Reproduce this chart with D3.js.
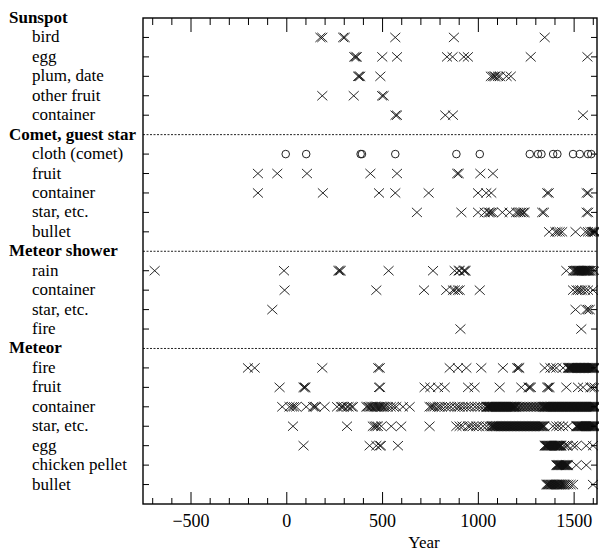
<!DOCTYPE html>
<html>
<head>
<meta charset="utf-8">
<script src="https://cdn.jsdelivr.net/npm/d3@7"></script>
<style>
    body { margin: 0; background: #fff; }
    text { font-family: 'Liberation Serif', 'DejaVu Serif', serif; }
</style>
</head>
<body>
<svg id="chart" width="599" height="554"></svg>
<script>
// Row labels, top to bottom (headers are the group names)
const groups = ['Sunspot', 'Comet, guest star', 'Meteor shower', 'Meteor'];
const sunspotRows = ['bird', 'egg', 'plum, date', 'other fruit', 'container'];
const cometRows = ['cloth (comet)', 'fruit', 'container', 'star, etc.', 'bullet'];
const showerRows = ['rain', 'container', 'star, etc.', 'fire'];
const meteorRows = ['fire', 'fruit', 'container', 'star, etc.', 'egg', 'chicken pellet', 'bullet'];

const majorTicks = [-500, 0, 500, 1000, 1500];
const minorTicks = [-700, -600, -400, -300, -200, -100, 100, 200, 300, 400, 600, 700, 800, 900,
    1100, 1200, 1300, 1400, 1600];

// Years of records, one array per row
const sunspotBird = [178, 188, 297, 305, 569, 875, 1349];
const sunspotEgg = [355, 362, 368, 501, 578, 839, 868, 927, 948, 1276, 1572];
const sunspotPlum = [375, 380, 386, 491, 1068, 1078, 1086, 1092, 1105, 1115, 1150, 1172];
const sunspotOtherFruit = [188, 352, 500, 508];
const sunspotContainer = [570, 578, 830, 870, 1549];

const cometCloth = [-3, 104, 388, 395, 569, 888, 1010, 1271, 1314, 1332, 1393, 1415, 1497, 1532, 1575, 1592];
const cometFruit = [-148, -47, 108, 439, 578, 892, 900, 1013, 1079];
const cometContainer = [-148, 191, 484, 569, 743, 1001, 1044, 1070, 1362, 1370, 1568, 1576];
const cometStar = [682, 914, 1001, 1036, 1055, 1062, 1070, 1079, 1128, 1166, 1200, 1210, 1220, 1227,
    1237, 1244, 1336, 1345, 1568, 1576];
const cometBullet = [1372, 1405, 1415, 1427, 1440, 1510, 1562, 1575, 1588, 1596, 1602, 1606, 1610, 1614];

const showerRain = [-687, -12, 272, 278, 284, 534, 766, 879, 900, 905, 926, 931, 936, 1462, 1497, 1503,
    1508, 1513, 1517, 1520, 1523, 1526, 1529, 1532, 1535, 1538, 1541, 1544, 1547, 1550, 1553, 1556,
    1559, 1562, 1565, 1568, 1571, 1574, 1577, 1580, 1585, 1590, 1601, 1610];
const showerContainer = [-9, 470, 719, 835, 870, 880, 896, 905, 1010, 1497, 1515, 1523, 1535, 1545,
    1560, 1575, 1601];
const showerStar = [-73, 1510, 1566, 1575, 1584];
const showerFire = [909, 1540];

const meteorFire = [-200, -165, 188, 480, 488, 853, 896, 940, 1018, 1131, 1205, 1212, 1216, 1349, 1379,
    1392, 1410, 1445, 1470, 1473, 1476, 1479, 1482, 1485, 1488, 1491, 1494, 1497, 1500, 1503, 1506,
    1509, 1512, 1515, 1518, 1521, 1524, 1527, 1530, 1533, 1536, 1539, 1542, 1545, 1548, 1551, 1554,
    1557, 1560, 1563, 1566, 1569, 1572, 1575, 1578, 1581, 1584, 1587, 1590, 1593, 1596, 1599, 1602,
    1605, 1608, 1612];
const meteorFruit = [-35, 90, 96, 100, 484, 490, 722, 752, 792, 827, 949, 983, 1114, 1227, 1265, 1271,
    1277, 1362, 1368, 1374, 1462, 1523, 1549, 1588, 1597, 1610];
const meteorContainer = [-21, 17, 30, 40, 52, 104, 140, 148, 155, 200, 265, 285, 292, 300, 317, 325,
    340, 348, 418, 425, 432, 440, 446, 452, 460, 466, 472, 478, 484, 490, 496, 503, 510, 518, 530, 545,
    560, 574, 609, 644, 748, 756, 765, 775, 790, 800, 812, 830, 845, 860, 880, 895, 905, 920, 935, 950,
    965, 985, 1000, 1015, 1030, 1044, 1047, 1050, 1053, 1056, 1059, 1062, 1065, 1068, 1071, 1074, 1077,
    1080, 1083, 1086, 1089, 1092, 1095, 1098, 1101, 1104, 1107, 1110, 1113, 1116, 1119, 1122, 1125,
    1128, 1131, 1134, 1137, 1140, 1143, 1146, 1149, 1152, 1155, 1158, 1161, 1164, 1167, 1170, 1173,
    1176, 1179, 1182, 1185, 1188, 1191, 1194, 1197, 1200, 1208, 1215, 1222, 1230, 1238, 1246, 1254,
    1262, 1270, 1278, 1286, 1294, 1302, 1310, 1318, 1326, 1333, 1340, 1343, 1346, 1349, 1352, 1355,
    1358, 1361, 1364, 1367, 1370, 1373, 1376, 1379, 1382, 1385, 1388, 1391, 1394, 1397, 1400, 1403,
    1406, 1409, 1412, 1415, 1418, 1421, 1424, 1427, 1430, 1433, 1436, 1439, 1442, 1445, 1448, 1451,
    1454, 1457, 1460, 1463, 1466, 1469, 1472, 1475, 1478, 1481, 1484, 1487, 1490, 1493, 1496, 1499,
    1502, 1505, 1508, 1511, 1514, 1517, 1520, 1523, 1526, 1529, 1532, 1535, 1538, 1541, 1544, 1547,
    1550, 1553, 1556, 1559, 1562, 1565, 1568, 1571, 1574, 1577, 1580, 1583, 1586, 1589, 1592, 1595,
    1598, 1601, 1604, 1607, 1610, 1613, 1616];
const meteorStar = [35, 317, 452, 462, 470, 478, 496, 548, 600, 748, 888, 905, 920, 949, 960, 975, 992,
    1005, 1027, 1045, 1062, 1071, 1075, 1079, 1083, 1087, 1091, 1095, 1099, 1103, 1107, 1111, 1115,
    1119, 1123, 1127, 1131, 1135, 1139, 1143, 1147, 1151, 1155, 1159, 1163, 1167, 1171, 1175, 1179,
    1183, 1187, 1191, 1195, 1199, 1203, 1207, 1211, 1215, 1219, 1223, 1227, 1231, 1235, 1239, 1243,
    1247, 1251, 1255, 1259, 1263, 1267, 1271, 1275, 1279, 1283, 1287, 1291, 1295, 1299, 1303, 1307,
    1311, 1315, 1319, 1323, 1327, 1331, 1335, 1339, 1343, 1347, 1392, 1410, 1425, 1445, 1471, 1514,
    1517, 1520, 1523, 1526, 1529, 1532, 1535, 1538, 1541, 1544, 1547, 1550, 1553, 1556, 1559, 1562,
    1565, 1568, 1571, 1574, 1577, 1580, 1583, 1586, 1589, 1592, 1595, 1598, 1601, 1604, 1607, 1610, 1614];
const meteorEgg = [90, 435, 470, 488, 494, 583, 1349, 1352, 1355, 1358, 1361, 1364, 1367, 1370, 1373,
    1376, 1379, 1382, 1385, 1388, 1391, 1394, 1397, 1400, 1403, 1406, 1409, 1412, 1415, 1418, 1421,
    1424, 1427, 1430, 1433, 1436, 1450, 1462, 1470, 1497, 1514, 1566, 1601];
const meteorChicken = [1410, 1413, 1416, 1419, 1422, 1425, 1428, 1431, 1434, 1437, 1440, 1443, 1446,
    1449, 1452, 1455, 1458, 1461, 1464, 1467, 1471, 1514, 1566];
const meteorBullet = [1358, 1362, 1366, 1370, 1374, 1378, 1382, 1386, 1390, 1394, 1398, 1402, 1406,
    1410, 1414, 1418, 1422, 1426, 1430, 1436, 1442, 1448, 1454, 1462, 1472, 1484, 1497, 1601];

const groupRows = [sunspotRows, cometRows, showerRows, meteorRows];
const groupData = [
    [sunspotBird, sunspotEgg, sunspotPlum, sunspotOtherFruit, sunspotContainer],
    [cometCloth, cometFruit, cometContainer, cometStar, cometBullet],
    [showerRain, showerContainer, showerStar, showerFire],
    [meteorFire, meteorFruit, meteorContainer, meteorStar, meteorEgg, meteorChicken, meteorBullet]
];

class Timeline {
    constructor(_config) {
        this.config = {
            parentElement: _config.parentElement,
            width: 599,
            height: 554,
            margin: { top: 18, right: 2, bottom: 50, left: 143 }
        };
        this.initVis();
    }

    initVis() {
        let vis = this;
        const m = vis.config.margin;
        vis.svg = d3.select(vis.config.parentElement);

        // flatten groups into slots: header slot, then one slot per item
        vis.rows = [];
        groups.forEach((g, gi) => {
            vis.rows.push({ label: g, header: true, group: gi });
            groupRows[gi].forEach((r, ri) => {
                vis.rows.push({ label: r, header: false, years: groupData[gi][ri], circle: gi === 1 && ri === 0 });
            });
        });

        vis.x = d3.scaleLinear()
            .domain([-748, 1622])
            .range([m.left, vis.config.width - m.right]);

        vis.y = d3.scaleLinear()
            .domain([0, vis.rows.length])
            .range([m.top, vis.config.height - m.bottom]);

        const x0 = vis.x.range()[0], x1 = vis.x.range()[1];
        const y0 = vis.y.range()[0], y1 = vis.y.range()[1];

        // dashed separators at group headers
        vis.svg.selectAll('.sep')
            .data(vis.rows.map((r, i) => ({ r, i })).filter(d => d.r.header && d.i > 0))
            .join('line')
            .attr('class', 'sep')
            .attr('x1', x0).attr('x2', x1)
            .attr('y1', d => vis.y(d.i)).attr('y2', d => vis.y(d.i))
            .attr('stroke', '#222')
            .attr('stroke-width', 1)
            .attr('stroke-dasharray', '2,1.5');

        // row labels
        vis.svg.selectAll('.rowlabel')
            .data(vis.rows)
            .join('text')
            .attr('class', 'rowlabel')
            .attr('x', d => d.header ? 9 : 32)
            .attr('y', (d, i) => vis.y(i) + 5)
            .attr('font-size', 17)
            .attr('font-weight', d => d.header ? 'bold' : 'normal')
            .text(d => d.label);

        // marks
        const items = vis.rows.map((r, i) => ({ r, i })).filter(d => !d.r.header);
        const pts = [];
        items.forEach(d => d.r.years.forEach(yr => pts.push({ yr, i: d.i, circle: d.r.circle })));

        const sx = 5, sy = 4.6;
        vis.svg.selectAll('.cross')
            .data(pts.filter(p => !p.circle))
            .join('path')
            .attr('class', 'cross')
            .attr('d', p => {
                const cx = vis.x(p.yr), cy = vis.y(p.i);
                return `M${cx - sx},${cy - sy}L${cx + sx},${cy + sy}M${cx - sx},${cy + sy}L${cx + sx},${cy - sy}`;
            })
            .attr('stroke', '#111')
            .attr('stroke-width', 0.9)
            .attr('fill', 'none');

        vis.svg.selectAll('.ring')
            .data(pts.filter(p => p.circle))
            .join('circle')
            .attr('class', 'ring')
            .attr('cx', p => vis.x(p.yr))
            .attr('cy', p => vis.y(p.i))
            .attr('r', 3.8)
            .attr('stroke', '#222')
            .attr('stroke-width', 1)
            .attr('fill', 'none');

        // y ticks on both sides, item rows only
        const tickIdx = items.map(d => d.i);
        vis.svg.selectAll('.ytickL')
            .data(tickIdx)
            .join('line')
            .attr('x1', x0).attr('x2', x0 + 6)
            .attr('y1', i => vis.y(i)).attr('y2', i => vis.y(i))
            .attr('stroke', '#000').attr('stroke-width', 1);
        vis.svg.selectAll('.ytickR')
            .data(tickIdx)
            .join('line')
            .attr('x1', x1).attr('x2', x1 - 6)
            .attr('y1', i => vis.y(i)).attr('y2', i => vis.y(i))
            .attr('stroke', '#000').attr('stroke-width', 1);

        // x axes, ticks pointing inward
        const bottomMajor = d3.axisBottom(vis.x).tickValues(majorTicks).tickSize(-12)
            .tickFormat(d => d < 0 ? '\u2212' + Math.abs(d) : d).tickPadding(10);
        const bottomMinor = d3.axisBottom(vis.x).tickValues(minorTicks).tickSize(-6).tickFormat('');
        const topMajor = d3.axisTop(vis.x).tickValues(majorTicks).tickSize(-14).tickFormat('');
        const topMinor = d3.axisTop(vis.x).tickValues(minorTicks).tickSize(-7).tickFormat('');

        [[bottomMajor, y1], [bottomMinor, y1], [topMajor, y0], [topMinor, y0]].forEach(([ax, yy]) => {
            const g = vis.svg.append('g').attr('transform', `translate(0,${yy})`).call(ax);
            g.select('.domain').remove();
            g.selectAll('.tick line').attr('stroke', '#000');
            g.selectAll('.tick text')
                .attr('font-family', "'Liberation Serif', serif")
                .attr('font-size', 18)
                .attr('fill', '#000');
        });

        // frame
        vis.svg.append('rect')
            .attr('x', x0).attr('y', y0)
            .attr('width', x1 - x0).attr('height', y1 - y0)
            .attr('fill', 'none')
            .attr('stroke', '#000')
            .attr('stroke-width', 1.4);

        vis.svg.append('text')
            .attr('x', 424)
            .attr('y', 548)
            .attr('text-anchor', 'middle')
            .attr('font-size', 17)
            .text('Year');
    }
}

new Timeline({ parentElement: '#chart' });
</script>
</body>
</html>
